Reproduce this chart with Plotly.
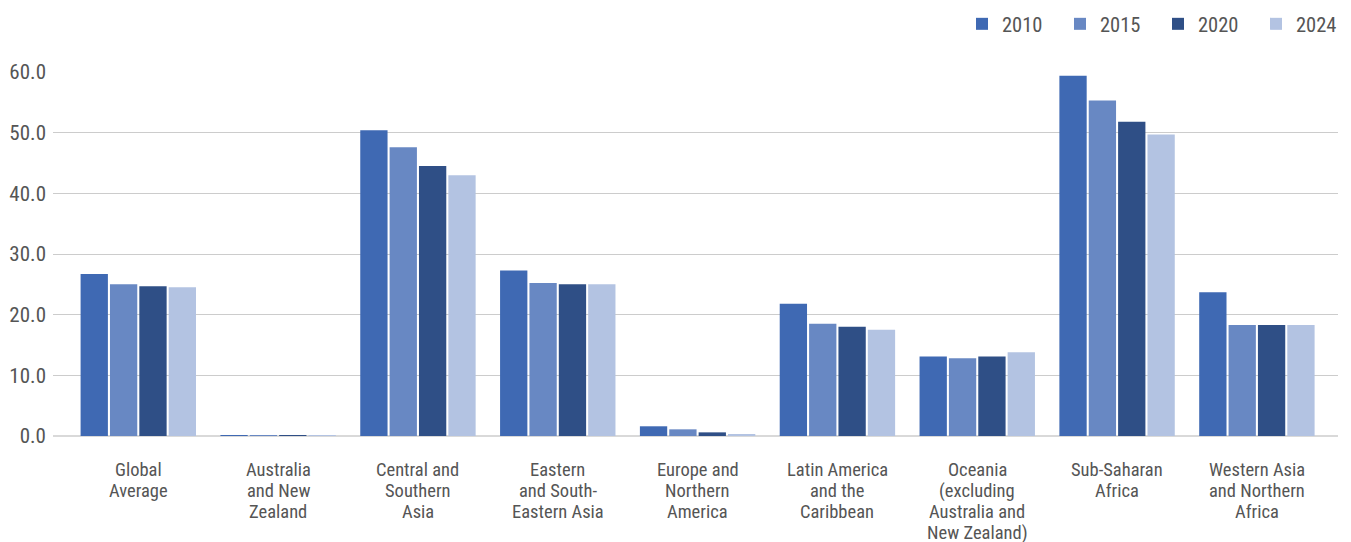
import plotly.graph_objects as go

categories = [
    "Global<br>Average",
    "Australia<br>and New<br>Zealand",
    "Central and<br>Southern<br>Asia",
    "Eastern<br>and South-<br>Eastern Asia",
    "Europe and<br>Northern<br>America",
    "Latin America<br>and the<br>Caribbean",
    "Oceania<br>(excluding<br>Australia and<br>New Zealand)",
    "Sub-Saharan<br>Africa",
    "Western Asia<br>and Northern<br>Africa",
]
years = ["2010", "2015", "2020", "2024"]
v2010 = [26.7, 0.1, 50.4, 27.3, 1.6, 21.8, 13.1, 59.4, 23.7]
v2015 = [25.0, 0.1, 47.6, 25.2, 1.1, 18.5, 12.8, 55.3, 18.3]
v2020 = [24.7, 0.1, 44.5, 25.0, 0.6, 18.0, 13.1, 51.8, 18.3]
v2024 = [24.5, 0.05, 43.0, 25.0, 0.3, 17.5, 13.8, 49.7, 18.3]
series = [v2010, v2015, v2020, v2024]
colors = ["#3f69b3", "#6888c3", "#2f4f86", "#b3c3e2"]
yticks = [0, 10, 20, 30, 40, 50, 60]

FONT = "Roboto Condensed, Roboto, sans-serif"
TXT = "#555555"

fig = go.Figure()
x_idx = list(range(len(categories)))
for name, vals, col in zip(years, series, colors):
    fig.add_trace(go.Bar(x=x_idx, y=vals, name=name, marker=dict(color=col, line=dict(width=0))))

# category labels, one text per line for tighter line spacing
FIRST = 21
LINE = 21
for i, label in enumerate(categories):
    for k, line in enumerate(label.split("<br>")):
        fig.add_annotation(x=i, y=0, xref="x", yref="y", text=line, showarrow=False,
                           xanchor="center", yanchor="top", yshift=-(FIRST + LINE * k),
                           font=dict(size=18.5, color=TXT, family=FONT))

fig.update_layout(
    width=1351, height=542,
    margin=dict(l=53, r=13, t=72, b=106, autoexpand=False),
    paper_bgcolor="white", plot_bgcolor="white",
    barmode="group", bargap=0.16, bargroupgap=0.07,
    font=dict(family=FONT, color=TXT, size=18),
    legend=dict(orientation="h", xref="container", yref="container",
                x=962 / 1351, xanchor="left", y=1 - 24 / 542, yanchor="middle",
                font=dict(size=20.5, color=TXT, family=FONT), entrywidth=53,
                itemwidth=30, traceorder="normal", bgcolor="rgba(0,0,0,0)"),
    showlegend=True,
)
fig.update_xaxes(
    range=[-0.61, 8.58], tickmode="array", tickvals=x_idx,
    showticklabels=False,
    showgrid=False, showline=False, zeroline=False, ticks="", automargin=False,
)
fig.update_yaxes(
    range=[0, 60], tickmode="array", tickvals=yticks, tickformat=".1f",
    showgrid=True, gridcolor="#cccccc", gridwidth=1, automargin=False,
    zeroline=True, zerolinecolor="#d9d9d9", zerolinewidth=2,
    showline=False, ticks="", ticklabelstandoff=6,
    tickfont=dict(size=21, color=TXT, family=FONT),
)
fig.write_html("out.html")
